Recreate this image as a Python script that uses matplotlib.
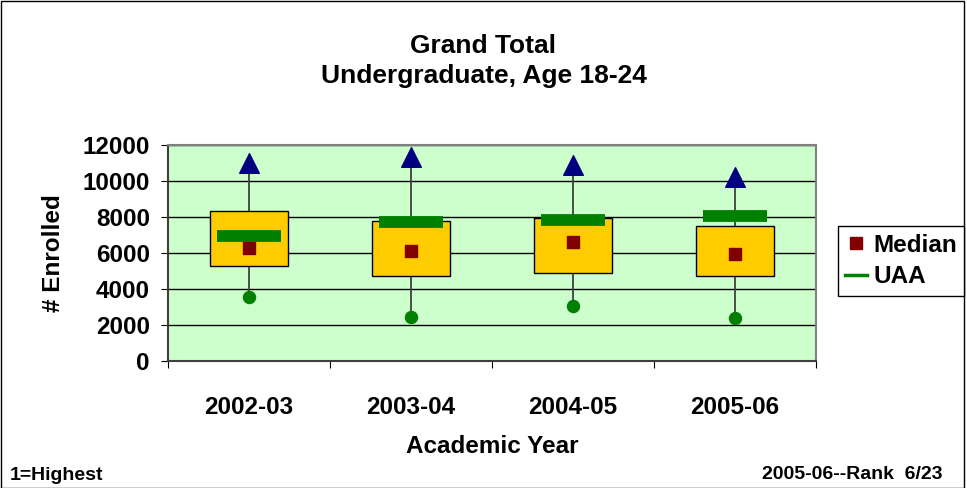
import matplotlib
matplotlib.use('Agg')
import matplotlib.pyplot as plt
from matplotlib.patches import Rectangle
from matplotlib.lines import Line2D
import numpy as np

plt.rcParams.update({'font.family': ['Liberation Sans', 'DejaVu Sans'], 'font.weight': 'bold'})

years = ['2002-03', '2003-04', '2004-05', '2005-06']
q_high = [8350, 7780, 7930, 7500]
q_low = [5290, 4720, 4870, 4720]
medians = [6280, 6110, 6610, 5930]
uaa = [6950, 7730, 7810, 8070]
maxima = [11000, 11330, 10900, 10220]
minima = [3570, 2460, 3060, 2370]
yticks = [0, 2000, 4000, 6000, 8000, 10000, 12000]

fs = 17.5
fig = plt.figure(figsize=(9.67, 4.88), dpi=100)
ax = fig.add_axes([168 / 967, 1 - 361 / 488, (816 - 168) / 967, (361 - 145) / 488])
ax.set_facecolor('#CCFFCC')
ax.set_xlim(0, 4)
ax.set_ylim(0, 12000)

x = np.arange(len(years)) + 0.5
for v in yticks[1:]:
    ax.axhline(v, color='black', linewidth=1, zorder=1)

box_w = 0.48
for i, xc in enumerate(x):
    ax.plot([xc, xc], [minima[i], maxima[i]], color='#404040', linewidth=1.3, zorder=2)
    ax.add_patch(Rectangle((xc - box_w / 2, q_low[i]), box_w, q_high[i] - q_low[i],
                           facecolor='#FFCC00', edgecolor='black', linewidth=1, zorder=3))
ax.scatter(x, maxima, marker='^', s=200, color='#000080', zorder=5)
ax.scatter(x, minima, marker='o', s=75, color='#008000', zorder=5)
ax.errorbar(x, uaa, xerr=0.2, fmt='none', ecolor='#008000', elinewidth=8.5, capsize=0, zorder=4)
ax.scatter(x, medians, marker='s', s=75, color='#800000', zorder=6)

ax.set_yticks(yticks)
ax.set_yticklabels([str(v) for v in yticks], fontsize=fs, fontweight='bold')
ax.set_xticks([0, 1, 2, 3, 4])
ax.set_xticklabels([])
ax.set_xticks(x, minor=True)
ax.set_xticklabels(years, minor=True, fontsize=fs, fontweight='bold')
ax.tick_params(axis='x', which='minor', length=0, pad=25)
ax.tick_params(axis='x', which='major', length=5, direction='out', color='black')
ax.tick_params(axis='y', length=5, direction='out', pad=8)
for s in ['top', 'right']:
    ax.spines[s].set_color('#808080')
    ax.spines[s].set_linewidth(1.5)
for s in ['left', 'bottom']:
    ax.spines[s].set_color('#404040')
    ax.spines[s].set_linewidth(1.5)

ax.set_ylabel('# Enrolled', fontsize=fs, fontweight='bold', labelpad=13)
ax.set_xlabel('Academic Year', fontsize=fs, fontweight='bold', labelpad=12)
fig.text(0.5, 1 - 53 / 488, 'Grand Total', ha='center', va='baseline', fontsize=19, fontweight='bold')
fig.text(0.5, 1 - 83 / 488, 'Undergraduate, Age 18-24', ha='center', va='baseline', fontsize=19, fontweight='bold')
fig.text(10 / 967, 1 - 480 / 488, '1=Highest', ha='left', va='baseline', fontsize=14, fontweight='bold')
fig.text(942 / 967, 1 - 479 / 488, '2005-06--Rank  6/23', ha='right', va='baseline', fontsize=14, fontweight='bold')

handles = [Line2D([], [], marker='s', linestyle='none', color='#800000', markersize=8),
           Line2D([], [], color='#008000', linewidth=2.5)]
leg = fig.legend(handles, ['Median', 'UAA'], loc='center left', bbox_to_anchor=(838 / 967, 1 - 261 / 488),
                 frameon=True, fancybox=False, edgecolor='black', framealpha=1,
                 handlelength=0.9, handletextpad=0.25, borderpad=0.3, labelspacing=0.35,
                 borderaxespad=0, prop={'weight': 'bold', 'size': fs})
leg.get_frame().set_linewidth(1)

fig.patches.append(Rectangle((0.001, 0.001), 0.996, 0.997, transform=fig.transFigure,
                             fill=False, edgecolor='black', linewidth=1))
fig.savefig('out.png', dpi=100)
